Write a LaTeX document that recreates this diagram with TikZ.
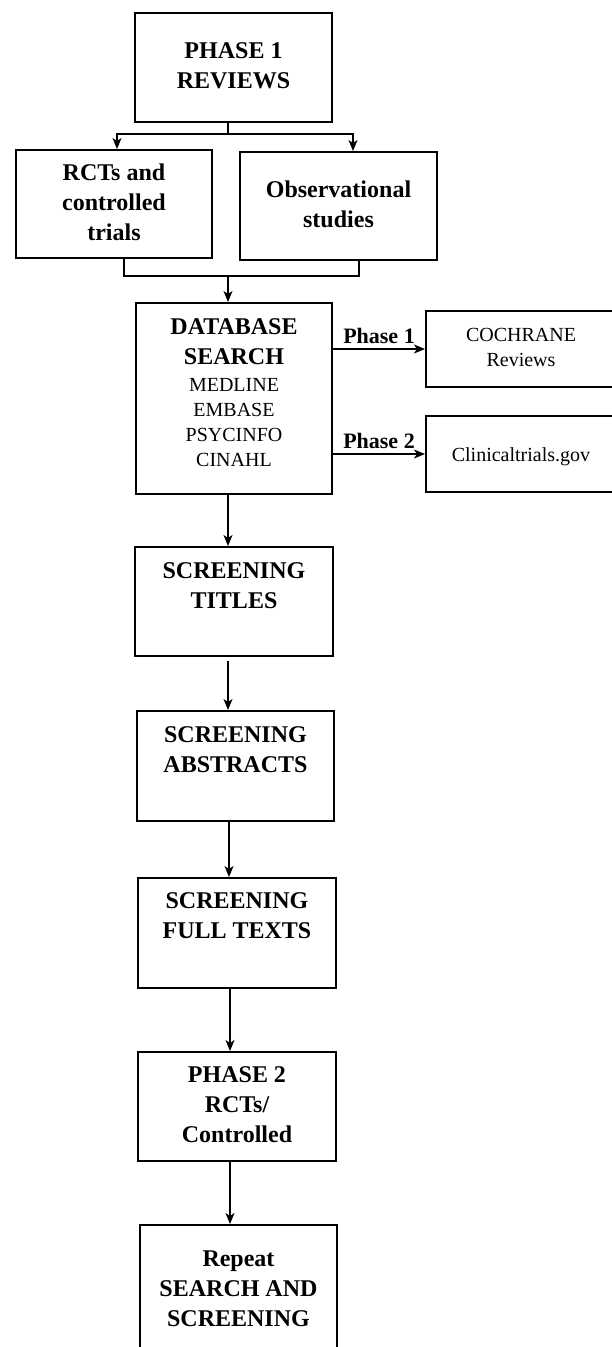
\documentclass[tikz,border=0pt]{standalone}
\usepackage{fontspec}
\setmainfont{Liberation Serif}
\usetikzlibrary{arrows.meta}
\tikzset{
  box/.style={draw, line width=2pt, inner sep=0pt},
  conn/.style={line width=1.5pt},
  arr/.style={conn, -{Stealth[length=11pt,width=9pt,inset=3pt]}},
  btxt/.style={font=\fontsize{24}{30}\selectfont\bfseries, align=center, inner sep=0pt, anchor=north},
  rtxt/.style={font=\fontsize{20}{25}\selectfont, align=center, inner sep=0pt, anchor=north},
  lbl/.style={font=\fontsize{22}{26}\selectfont\bfseries, inner sep=0pt}
}
\begin{document}
\begin{tikzpicture}[x=1pt,y=-1pt]
\useasboundingbox (0,0) rectangle (612,1347);
% boxes
\node[box, minimum width=197pt, minimum height=109pt] (p1) at (233.5,67.5) {};
\node[box, minimum width=196pt, minimum height=108pt] (rct) at (114,204) {};
\node[box, minimum width=197pt, minimum height=108pt] (obs) at (338.5,206) {};
\node[box, minimum width=196pt, minimum height=191pt] (db) at (234,398.5) {};
\node[box, minimum width=194pt, minimum height=76pt] (coch) at (523,349) {};
\node[box, minimum width=194pt, minimum height=76pt] (clin) at (523,454) {};
\node[box, minimum width=198pt, minimum height=109pt] (tit) at (234,601.5) {};
\node[box, minimum width=197pt, minimum height=110pt] (abs) at (235.5,766) {};
\node[box, minimum width=198pt, minimum height=110pt] (full) at (237,933) {};
\node[box, minimum width=198pt, minimum height=109pt] (p2) at (237,1106.5) {};
\node[box, minimum width=197pt, minimum height=145pt] (rep) at (238.5,1297.5) {};
% texts
\node[btxt] (p1t) at (233.5,42.5) {PHASE 1\\REVIEWS};
\node[btxt] (rctt) at (114,164) {RCTs and\\controlled\\trials};
\node[btxt] (obst) at (338.5,181) {Observational\\studies};
\node[btxt] (dbt) at (234,318.5) {DATABASE\\SEARCH};
\node[rtxt] (dbl) at (234,378.5) {MEDLINE\\EMBASE\\PSYCINFO\\CINAHL};
\node[rtxt] (cocht) at (521,328.5) {COCHRANE\\Reviews};
\node[rtxt, anchor=base] (clint) at (521,461) {Clinicaltrials.gov};
\node[btxt] (titt) at (234,562.5) {SCREENING\\TITLES};
\node[btxt] (abst) at (235.5,726.5) {SCREENING\\ABSTRACTS};
\node[btxt] (fullt) at (237,892.5) {SCREENING\\FULL TEXTS};
\node[btxt] (p2t) at (237,1066.5) {PHASE 2\\RCTs/\\Controlled};
\node[btxt] (rept) at (238.5,1251) {Repeat\\SEARCH AND\\SCREENING};
% split from phase 1
\coordinate (j1) at (228,134);
\draw[conn] ([xshift=-5.5pt]p1.south) -- (j1);
\draw[arr] (j1) -| ([xshift=3pt]rct.north);
\draw[arr] (j1) -| ([xshift=14.5pt]obs.north);
% merge to database
\coordinate (j2) at (228,276);
\draw[conn] ([xshift=10pt]rct.south) |- (j2);
\draw[conn] ([xshift=20.5pt]obs.south) |- (j2);
\draw[arr] (j2) -- ([xshift=-6pt]db.north);
% side arrows
\draw[arr] (db.east |- coch.west) -- node[lbl, above=5pt] (ph1) {Phase 1} (coch.west);
\draw[arr] (db.east |- clin.west) -- node[lbl, above=5pt] (ph2) {Phase 2} (clin.west);
% main chain
\draw[arr] ([xshift=-6pt]db.south) -- ([xshift=-6pt]db.south |- tit.north);
\draw[arr, shorten <=4pt] ([xshift=-6pt]tit.south) -- ([xshift=-6pt]tit.south |- abs.north);
\draw[arr] ([xshift=-6.5pt]abs.south) -- ([xshift=-6.5pt]abs.south |- full.north);
\draw[arr] ([xshift=-7pt]full.south) -- ([xshift=-7pt]full.south |- p2.north);
\draw[arr] ([xshift=-7pt]p2.south) -- ([xshift=-7pt]p2.south |- rep.north);
\end{tikzpicture}
\end{document}
